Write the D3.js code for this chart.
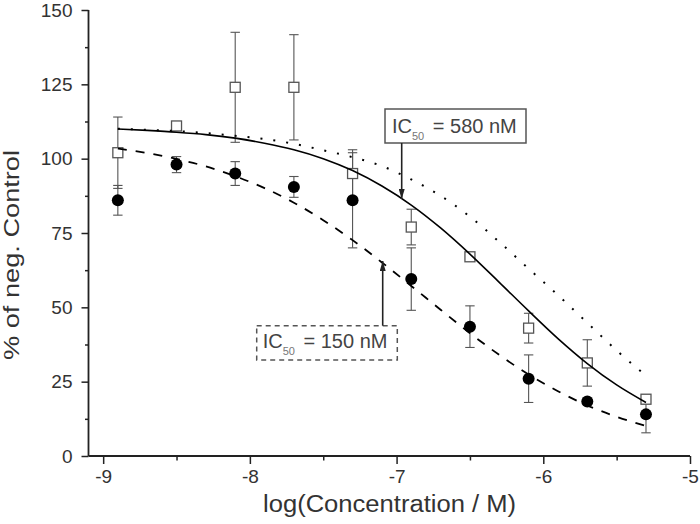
<!DOCTYPE html>
<html>
<head>
<meta charset="utf-8">
<script src="https://cdn.jsdelivr.net/npm/d3@7"></script>
<style>
  html, body { margin: 0; padding: 0; background: #fff; }
  svg { display: block; font-family: "Liberation Sans", Arial, sans-serif; }
</style>
</head>
<body>
<svg id="chart" width="700" height="524"></svg>
<script>
// ---- data ----
const concLog = [-8.9, -8.5, -8.1, -7.7, -7.3, -6.9, -6.5, -6.1, -5.7, -5.3];
const squareMean = [102, 111, 124, 124, 95, 77, 67, 43, 31.3, 19.1];
const squareErr  = [12, 1, 18.5, 17.7, 8, 6, 1, 5, 7.8, 1.5];
const circleMean = [86, 98, 95, 90.5, 86, 59.5, 43.5, 26, 18.3, 14];
const circleErr  = [5, 2.7, 4, 3.5, 16, 10.5, 7, 8, 1, 6.2];

const fitX = [-8.9, -8.7, -8.5, -8.3, -8.1, -7.9, -7.7, -7.5, -7.3, -7.1,
              -6.9, -6.7, -6.5, -6.3, -6.1, -5.9, -5.7, -5.5, -5.3];
const fitSolid  = [110.0, 109.5, 108.9, 108.1, 106.9, 105.2, 103.0, 100.0, 96.0, 90.8,
                   84.4, 76.7, 67.9, 58.4, 48.8, 39.5, 31.1, 23.9, 18.0];
const fitDashed = [103.4, 101.9, 99.9, 97.4, 94.1, 90.1, 85.2, 79.3, 72.6, 65.1,
                   57.2, 49.2, 41.3, 34.0, 27.4, 21.8, 17.0, 13.2, 10.1];
const fitDotted = [110.1, 109.7, 109.3, 108.6, 107.7, 106.6, 105.0, 102.8, 100.5, 97.5,
                   93.0, 87.5, 80.5, 72.0, 63.0, 54.1, 44.8, 35.5, 27.0];

const xTicks = [-9, -8, -7, -6, -5];
const xTickLabels = ["-9", "-8", "-7", "-6", "-5"];
const xMinorTicks = [-8.5, -7.5, -6.5, -5.5];
const yTicks = [0, 25, 50, 75, 100, 125, 150];
const yTickLabels = ["0", "25", "50", "75", "100", "125", "150"];
const yMinorTicks = [12.5, 37.5, 62.5, 87.5, 112.5, 137.5];

const xLabel = "log(Concentration / M)";
const yLabel = "% of neg. Control";
const ann1 = { main: "IC", sub: "50", rest: " = 580 nM" };
const ann2 = { main: "IC", sub: "50", rest: " = 150 nM" };

// ---- chart ----
const svg = d3.select("#chart");
const x = d3.scaleLinear().domain([-9.1, -5]).range([88.5, 690]);
const y = d3.scaleLinear().domain([0, 150]).range([456, 10]);

const axisColor = "#222";
const tickFont = 19;

// Y axis
const gy = svg.append("g").attr("transform", `translate(${x(-9.1)},0)`);
gy.call(d3.axisLeft(y).tickValues(yTicks).tickSize(7).tickSizeOuter(0).tickPadding(9)
  .tickFormat((d, i) => yTickLabels[i]));
gy.append("g").call(d3.axisLeft(y).tickValues(yMinorTicks).tickSize(3.5).tickSizeOuter(0).tickFormat(""))
  .select(".domain").remove();
// X axis
const gx = svg.append("g").attr("transform", `translate(0,${y(0)})`);
gx.call(d3.axisBottom(x).tickValues(xTicks).tickSize(8).tickSizeOuter(0).tickPadding(6)
  .tickFormat((d, i) => xTickLabels[i]));
gx.append("g").call(d3.axisBottom(x).tickValues(xMinorTicks).tickSize(4.5).tickSizeOuter(0).tickFormat(""))
  .select(".domain").remove();

svg.selectAll(".domain").attr("stroke", axisColor).attr("stroke-width", 1.8);
svg.selectAll(".tick line").attr("stroke", axisColor).attr("stroke-width", 1.5);
svg.selectAll(".tick text").attr("fill", "#333").attr("font-size", tickFont)
   .attr("font-family", "Liberation Sans, Arial, sans-serif");
gx.select(".domain").attr("d", `M${x(-9.1)},0H${x(-5)}`);
gy.select(".domain").attr("d", `M0,${y(0)}V${y(150)}`);

// axis labels
svg.append("text")
  .attr("x", 389.5).attr("y", 512)
  .attr("text-anchor", "middle").attr("font-size", 23).attr("fill", "#333")
  .attr("textLength", 253).attr("lengthAdjust", "spacingAndGlyphs")
  .text(xLabel);
svg.append("text")
  .attr("transform", "translate(19,255) rotate(-90)")
  .attr("text-anchor", "middle").attr("font-size", 22).attr("fill", "#333")
  .attr("textLength", 210).attr("lengthAdjust", "spacingAndGlyphs")
  .text(yLabel);

// error bars
const errColor = "#555";
const capW = 4.7;
function errorBars(means, errs, cls) {
  const g = svg.append("g").attr("class", cls).attr("stroke", errColor).attr("stroke-width", 1.1);
  concLog.forEach((c, i) => {
    const cx = x(c), top = y(means[i] + errs[i]), bot = y(means[i] - errs[i]);
    g.append("line").attr("x1", cx).attr("x2", cx).attr("y1", top).attr("y2", bot);
    g.append("line").attr("x1", cx - capW).attr("x2", cx + capW).attr("y1", top).attr("y2", top);
    g.append("line").attr("x1", cx - capW).attr("x2", cx + capW).attr("y1", bot).attr("y2", bot);
  });
}
errorBars(squareMean, squareErr, "err-sq");
errorBars(circleMean, circleErr, "err-ci");

// markers
const sq = 10;
svg.append("g").selectAll("rect").data(concLog).join("rect")
  .attr("x", d => x(d) - sq / 2)
  .attr("y", (d, i) => y(squareMean[i]) - sq / 2)
  .attr("width", sq).attr("height", sq)
  .attr("fill", "#fff").attr("stroke", "#555").attr("stroke-width", 1.3);
svg.append("g").selectAll("circle").data(concLog).join("circle")
  .attr("cx", d => x(d))
  .attr("cy", (d, i) => y(circleMean[i]))
  .attr("r", 6).attr("fill", "#000");

// fitted curves
const line = d3.line().x(d => x(d[0])).y(d => y(d[1])).curve(d3.curveMonotoneX);
const pts = arr => fitX.map((v, i) => [v, arr[i]]);
svg.append("path").attr("d", line(pts(fitDotted)))
  .attr("fill", "none").attr("stroke", "#000").attr("stroke-width", 2)
  .attr("stroke-dasharray", "2,11");
svg.append("path").attr("d", line(pts(fitDashed)))
  .attr("fill", "none").attr("stroke", "#000").attr("stroke-width", 1.8)
  .attr("stroke-dasharray", "9,9");
svg.append("path").attr("d", line(pts(fitSolid)))
  .attr("fill", "none").attr("stroke", "#000").attr("stroke-width", 1.6);

// annotations
const defs = svg.append("defs");
defs.append("marker").attr("id", "arrow").attr("viewBox", "0 0 10 6")
  .attr("refX", 10).attr("refY", 3).attr("markerWidth", 10).attr("markerHeight", 6)
  .attr("orient", "auto").attr("markerUnits", "userSpaceOnUse")
  .append("path").attr("d", "M0,0L10,3L0,6Z").attr("fill", "#222");

function annotation(a, box, textX, baseY, dashed, arrow) {
  svg.append("rect").attr("x", box[0]).attr("y", box[1])
    .attr("width", box[2] - box[0]).attr("height", box[3] - box[1])
    .attr("fill", "#fff").attr("stroke", "#555").attr("stroke-width", 1.5)
    .attr("stroke-dasharray", dashed ? "5,4" : null);
  const t = svg.append("text").attr("x", textX).attr("y", baseY)
    .attr("font-size", 20).attr("fill", "#444");
  t.append("tspan").text(a.main);
  t.append("tspan").attr("font-size", 11).attr("dy", 7).attr("fill", "#777").text(a.sub);
  t.append("tspan").attr("dy", -7).attr("dx", 3).text(a.rest);
  svg.append("line").attr("x1", arrow[0]).attr("y1", arrow[1]).attr("x2", arrow[2]).attr("y2", arrow[3])
    .attr("stroke", "#222").attr("stroke-width", 1.6).attr("marker-end", "url(#arrow)");
}
annotation(ann1, [385, 109, 526, 143], 392, 132.7, false, [401.7, 143, 401.7, 199]);
annotation(ann2, [256.7, 325.7, 397.3, 360], 262.7, 347.7, true, [382.7, 325.7, 382.7, 261]);
</script>
</body>
</html>
